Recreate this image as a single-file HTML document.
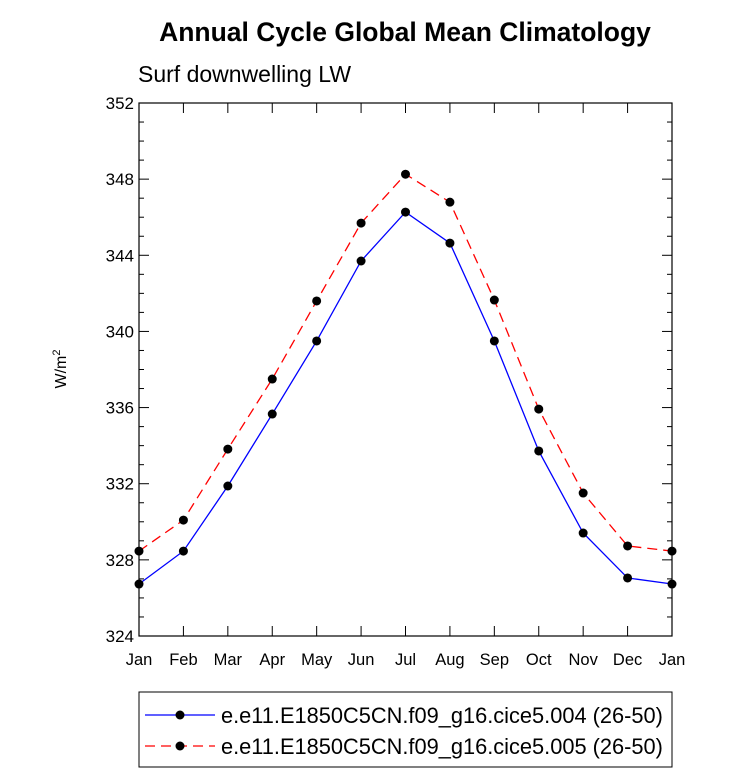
<!DOCTYPE html>
<html><head><meta charset="utf-8"><style>
body{margin:0;background:#fff;}
svg{display:block;font-family:"Liberation Sans",Arial,sans-serif;}
</style></head><body>
<svg id="chart" width="733" height="773">
<text x="405" y="41" text-anchor="middle" font-size="26.5" font-weight="bold">Annual Cycle Global Mean Climatology</text>
<text x="138" y="82" font-size="23">Surf downwelling LW</text>
<text transform="translate(66,369) rotate(-90)" text-anchor="middle" font-size="16">W/m<tspan font-size="11" dy="-6">2</tspan></text>
<rect x="139" y="103" width="533" height="533" fill="none" stroke="#000" stroke-width="1.2"/>
<g id="axes"></g>
<g id="series"></g>
<rect x="139" y="692" width="533" height="75" fill="#fff" stroke="#000" stroke-width="1"/>
<g>
<line x1="145" y1="715" x2="215" y2="715" stroke="#0000ff" stroke-width="1.3"/>
<circle cx="180" cy="715" r="4.5" fill="#000"/>
<text x="221" y="723" font-size="21.8">e.e11.E1850C5CN.f09_g16.cice5.004 (26-50)</text>
</g>
<g>
<line x1="145" y1="746" x2="215" y2="746" stroke="#ff0000" stroke-width="1.3" stroke-dasharray="10,6"/>
<circle cx="180" cy="746" r="4.5" fill="#000"/>
<text x="221" y="754" font-size="21.8">e.e11.E1850C5CN.f09_g16.cice5.005 (26-50)</text>
</g>
</svg>
<script>
const months=["Jan","Feb","Mar","Apr","May","Jun","Jul","Aug","Sep","Oct","Nov","Dec","Jan"];
const series004=[326.73,328.46,331.88,335.66,339.5,343.7,346.27,344.64,339.5,333.72,329.41,327.05,326.73];
const series005=[328.46,330.09,333.82,337.5,341.6,345.69,348.26,346.79,341.65,335.92,331.51,328.73,328.46];
const yTicks=[324,328,332,336,340,344,348,352];
const NS="http://www.w3.org/2000/svg";
const X0=139,X1=672,Y0=636,Y1=103,YMIN=324,YMAX=352;
function xs(i){return X0+(X1-X0)*i/(months.length-1);}
function ys(v){return Y0-(v-YMIN)/(YMAX-YMIN)*(Y0-Y1);}
function mk(t,a,p){const e=document.createElementNS(NS,t);for(const k in a)e.setAttribute(k,a[k]);p.appendChild(e);return e;}
const ax=document.getElementById('axes');
months.forEach((m,i)=>{
  const x=xs(i);
  const l1=mk('line',{x1:x,y1:Y0,x2:x,y2:Y0-10,stroke:'#000'},ax);
  
  
  mk('line',{x1:x,y1:Y1,x2:x,y2:Y1+10,stroke:'#000'},ax);
  const t=mk('text',{x:x,y:Y0+29,'text-anchor':'middle','font-size':16.5},ax);
  t.textContent=m;
  
  
});
for(let v=YMIN;v<=YMAX;v+=1){
  const y=ys(v),maj=(v-YMIN)%4===0,len=maj?10:5;
  mk('line',{x1:X0,y1:y,x2:X0+len,y2:y,stroke:'#000'},ax);
  mk('line',{x1:X1,y1:y,x2:X1-len,y2:y,stroke:'#000'},ax);
}
yTicks.forEach(v=>{
  const t=mk('text',{x:X0-5,y:ys(v)+6,'text-anchor':'end','font-size':17},ax);
  t.textContent=v;
  
  
});
const sg=document.getElementById('series');
function draw(data,color,dash,name){
  const g=mk('g',{},sg);
  
  
  const pts=data.map((v,i)=>xs(i)+','+ys(v)).join(' ');
  const a={points:pts,fill:'none',stroke:color,'stroke-width':1.3};
  if(dash)a['stroke-dasharray']=dash;
  mk('polyline',a,g);
  data.forEach((v,i)=>{
    const c=mk('circle',{cx:xs(i),cy:ys(v),r:4.5,fill:'#000'},g);
    
    
  });
}
draw(series004,'#0000ff',null,'series-004');
draw(series005,'#ff0000','10,6','series-005');
</script>
</body></html>
